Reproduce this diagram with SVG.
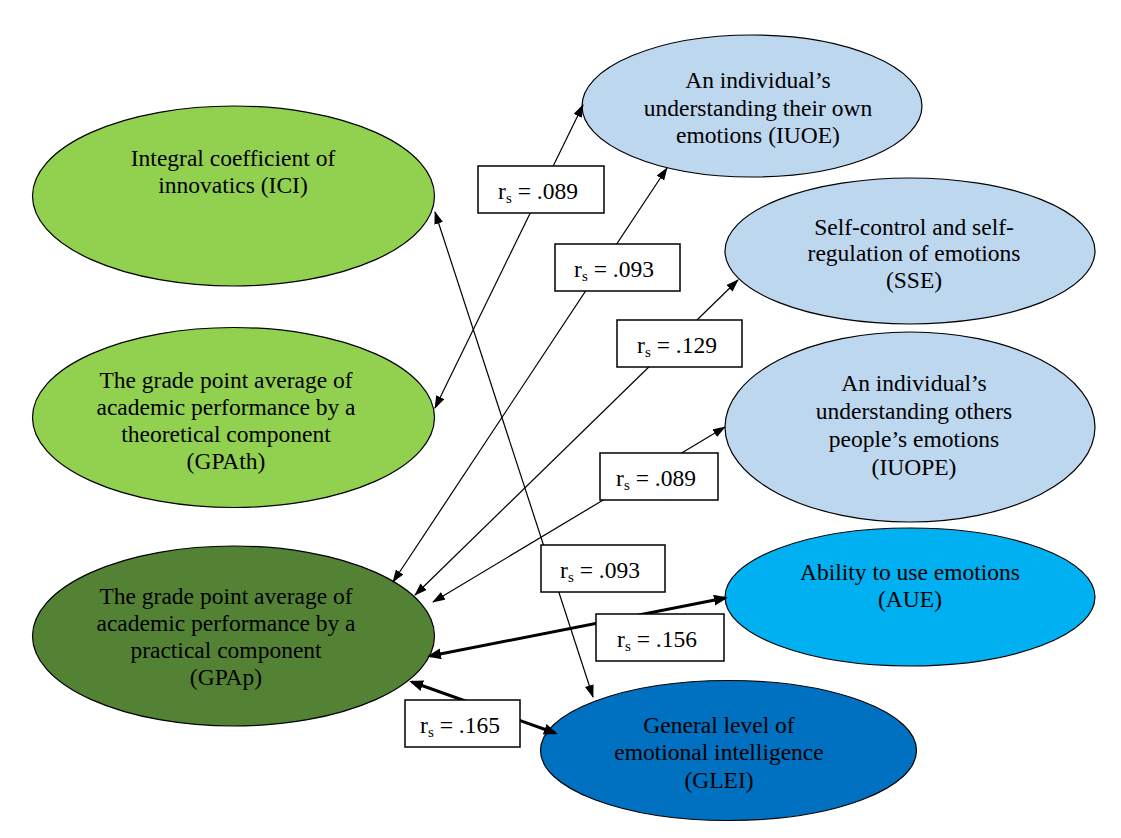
<svg xmlns="http://www.w3.org/2000/svg" width="1121" height="838" viewBox="0 0 1121 838">
<style>
.node { stroke: #000; stroke-width: 1.2; }
.t { font-family: "Liberation Serif", "Times New Roman", serif; font-size: 23.5px; fill: #000; text-anchor: middle; }
.lab { font-family: "Liberation Serif", "Times New Roman", serif; font-size: 23.5px; fill: #000; text-anchor: middle; }
.sub { font-size: 15px; }
.thin { stroke: #000; stroke-width: 1.2; fill: none; marker-start: url(#ah); marker-end: url(#ah); }
.thick { stroke: #000; stroke-width: 3; fill: none; marker-start: url(#ahb); marker-end: url(#ahb); }
.box { fill: #fff; stroke: #000; stroke-width: 1.5; }
</style>
<defs>
<marker id="ah" markerUnits="userSpaceOnUse" markerWidth="14" markerHeight="10" refX="12" refY="4.5" orient="auto-start-reverse">
<path d="M0,0 L13,4.5 L0,9 z" fill="#000"/>
</marker>
<marker id="ahb" markerUnits="userSpaceOnUse" markerWidth="16" markerHeight="12" refX="11" refY="5.5" orient="auto-start-reverse">
<path d="M0,0 L14,5.5 L0,11 z" fill="#000"/>
</marker>
</defs>
<rect x="0" y="0" width="1121" height="838" fill="#fff"/>

<g id="ICI">
<ellipse class="node" cx="233.5" cy="196" rx="201" ry="90" fill="#92D050"/>
<text class="t" x="233" y="166">Integral coefficient of</text>
<text class="t" x="233" y="193">innovatics (ICI)</text>
</g>
<g id="GPAth">
<ellipse class="node" cx="233.5" cy="417.5" rx="201" ry="90" fill="#92D050"/>
<text class="t" x="226" y="388">The grade point average of</text>
<text class="t" x="226" y="415">academic performance by a</text>
<text class="t" x="226" y="442">theoretical component</text>
<text class="t" x="226" y="469">(GPAth)</text>
</g>
<g id="GPAp">
<ellipse class="node" cx="233.5" cy="636" rx="201" ry="90" fill="#548235"/>
<text class="t" x="226" y="604">The grade point average of</text>
<text class="t" x="226" y="631">academic performance by a</text>
<text class="t" x="226" y="658">practical component</text>
<text class="t" x="226" y="685">(GPAp)</text>
</g>
<g id="IUOE">
<ellipse class="node" cx="752" cy="106" rx="170" ry="71" fill="#BDD7EE"/>
<text class="t" x="758" y="88">An individual’s</text>
<text class="t" x="758" y="116">understanding their own</text>
<text class="t" x="758" y="143">emotions (IUOE)</text>
</g>
<g id="SSE">
<ellipse class="node" cx="910" cy="251" rx="185" ry="73" fill="#BDD7EE"/>
<text class="t" x="914" y="235">Self-control and self-</text>
<text class="t" x="914" y="261">regulation of emotions</text>
<text class="t" x="914" y="288">(SSE)</text>
</g>
<g id="IUOPE">
<ellipse class="node" cx="910" cy="427" rx="185" ry="95" fill="#BDD7EE"/>
<text class="t" x="914" y="391">An individual’s</text>
<text class="t" x="914" y="419">understanding others</text>
<text class="t" x="914" y="447">people’s emotions</text>
<text class="t" x="914" y="475">(IUOPE)</text>
</g>
<g id="AUE">
<ellipse class="node" cx="910" cy="597" rx="185" ry="69" fill="#00B0F0"/>
<text class="t" x="910" y="580">Ability to use emotions</text>
<text class="t" x="910" y="607">(AUE)</text>
</g>
<g id="GLEI">
<ellipse class="node" cx="728.5" cy="750.5" rx="188" ry="70" fill="#0070C0"/>
<text class="t" x="719" y="733">General level of</text>
<text class="t" x="719" y="760">emotional intelligence</text>
<text class="t" x="719" y="788">(GLEI)</text>
</g>

<g id="connectors">
<line class="thin" x1="435" y1="408" x2="583" y2="105"/>
<line class="thin" x1="435" y1="212" x2="593" y2="697"/>
<line class="thin" x1="393" y1="582" x2="667" y2="168"/>
<line class="thin" x1="415" y1="595" x2="738" y2="280"/>
<line class="thin" x1="433" y1="602" x2="725" y2="427"/>
<line class="thick" x1="430" y1="656" x2="725" y2="598"/>
<line class="thick" x1="412" y1="682" x2="555" y2="733"/>

<rect class="box" x="478" y="166" width="126" height="47"/>
<text class="lab" x="538" y="199">r<tspan class="sub" dy="4">s</tspan><tspan dy="-4"> = .089</tspan></text>
<rect class="box" x="555" y="244" width="125" height="47"/>
<text class="lab" x="614" y="277">r<tspan class="sub" dy="4">s</tspan><tspan dy="-4"> = .093</tspan></text>
<rect class="box" x="617" y="320" width="125" height="47"/>
<text class="lab" x="677" y="353">r<tspan class="sub" dy="4">s</tspan><tspan dy="-4"> = .129</tspan></text>
<rect class="box" x="600" y="453" width="118" height="47"/>
<text class="lab" x="656" y="486">r<tspan class="sub" dy="4">s</tspan><tspan dy="-4"> = .089</tspan></text>
<rect class="box" x="541" y="545" width="124" height="47"/>
<text class="lab" x="600" y="578">r<tspan class="sub" dy="4">s</tspan><tspan dy="-4"> = .093</tspan></text>
<rect class="box" x="596" y="614" width="128" height="47"/>
<text class="lab" x="657" y="647">r<tspan class="sub" dy="4">s</tspan><tspan dy="-4"> = .156</tspan></text>
<rect class="box" x="405" y="700" width="115" height="47"/>
<text class="lab" x="460" y="733">r<tspan class="sub" dy="4">s</tspan><tspan dy="-4"> = .165</tspan></text>
</g>
</svg>
